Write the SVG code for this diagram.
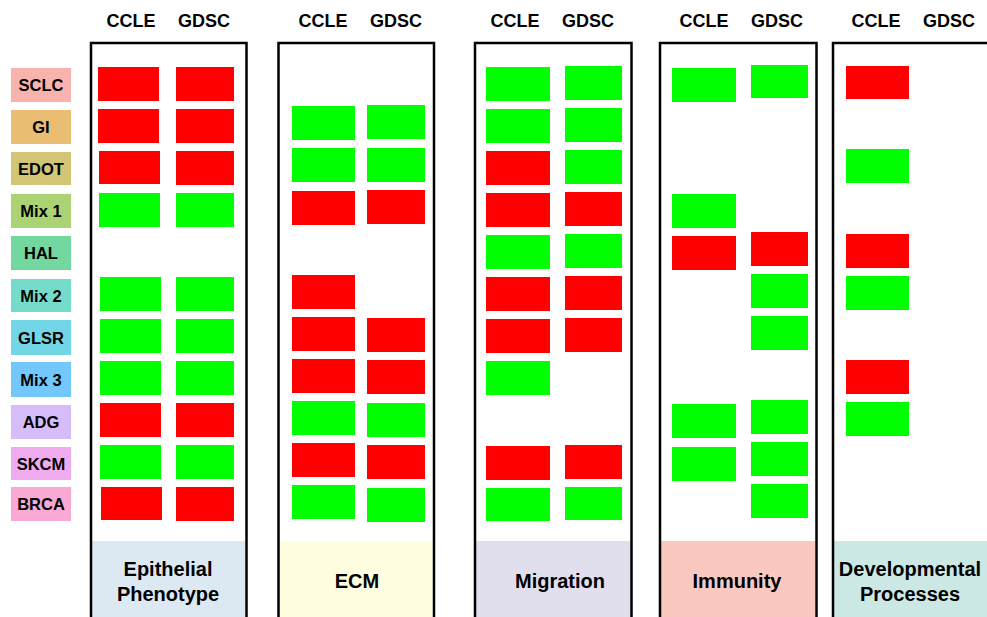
<svg xmlns="http://www.w3.org/2000/svg" width="987" height="617" viewBox="0 0 987 617">
<style>
text{font-family:"Liberation Sans",Arial,Helvetica,sans-serif;font-weight:bold;fill:#000;text-anchor:middle}
.hd{font-size:18px}
.lb{font-size:16.5px}
.bt{font-size:20px}
.box{fill:none;stroke:#000;stroke-width:2.5}
.r{fill:#ff0000}
.g{fill:#00ff00}
</style>
<rect width="987" height="617" fill="#fff"/>

<g id="labels">
<g id="lab-SCLC"><rect x="11" y="68" width="60" height="34" fill="#f9b3ae"/><text class="lb" x="41" y="91">SCLC</text></g>
<g id="lab-GI"><rect x="11" y="110" width="60" height="34" fill="#e9be72"/><text class="lb" x="41" y="133">GI</text></g>
<g id="lab-EDOT"><rect x="11" y="152" width="60" height="33" fill="#d2c676"/><text class="lb" x="41" y="174.5">EDOT</text></g>
<g id="lab-Mix1"><rect x="11" y="194" width="60" height="34" fill="#abd373"/><text class="lb" x="41" y="217">Mix 1</text></g>
<g id="lab-HAL"><rect x="11" y="236" width="60" height="34" fill="#72d8a0"/><text class="lb" x="41" y="259">HAL</text></g>
<g id="lab-Mix2"><rect x="11" y="279" width="60" height="33" fill="#75dccc"/><text class="lb" x="41" y="301.5">Mix 2</text></g>
<g id="lab-GLSR"><rect x="11" y="320" width="60" height="35" fill="#72d6e6"/><text class="lb" x="41" y="343.5">GLSR</text></g>
<g id="lab-Mix3"><rect x="11" y="362" width="60" height="35" fill="#72c8fa"/><text class="lb" x="41" y="385.5">Mix 3</text></g>
<g id="lab-ADG"><rect x="11" y="405" width="60" height="34" fill="#d6bcf9"/><text class="lb" x="41" y="428">ADG</text></g>
<g id="lab-SKCM"><rect x="11" y="447" width="60" height="33" fill="#f0aaee"/><text class="lb" x="41" y="469.5">SKCM</text></g>
<g id="lab-BRCA"><rect x="11" y="487" width="60" height="34" fill="#f9a9d3"/><text class="lb" x="41" y="510">BRCA</text></g>
</g>

<g id="panel-epithelial">
<rect x="92" y="541" width="153" height="80" fill="#dde9f2"/>
<rect class="box" x="91" y="43" width="155.5" height="590"/>
<text class="hd" x="131" y="27">CCLE</text><text class="hd" x="204" y="27">GDSC</text>
<rect class="r" x="98" y="67" width="61" height="34"/><rect class="r" x="176" y="67" width="58" height="34"/>
<rect class="r" x="98" y="109" width="61" height="34"/><rect class="r" x="176" y="109" width="58" height="34"/>
<rect class="r" x="99" y="151" width="61" height="33"/><rect class="r" x="176" y="151" width="58" height="34"/>
<rect class="g" x="99" y="193" width="61" height="34"/><rect class="g" x="176" y="193" width="58" height="34"/>
<rect class="g" x="100" y="277" width="61" height="34"/><rect class="g" x="176" y="277" width="58" height="34"/>
<rect class="g" x="100" y="319" width="61" height="34"/><rect class="g" x="176" y="319" width="58" height="34"/>
<rect class="g" x="100" y="361" width="61" height="34"/><rect class="g" x="176" y="361" width="58" height="34"/>
<rect class="r" x="100" y="403" width="61" height="34"/><rect class="r" x="176" y="403" width="58" height="34"/>
<rect class="g" x="100" y="445" width="61" height="34"/><rect class="g" x="176" y="445" width="58" height="34"/>
<rect class="r" x="101" y="487" width="61" height="33"/><rect class="r" x="176" y="487" width="58" height="34"/>
<text class="bt" x="168" y="576">Epithelial</text><text class="bt" x="168" y="601">Phenotype</text>
</g>

<g id="panel-ecm">
<rect x="279" y="541" width="154" height="80" fill="#fefde0"/>
<rect class="box" x="278.5" y="43" width="155.5" height="590"/>
<text class="hd" x="323" y="27">CCLE</text><text class="hd" x="396" y="27">GDSC</text>
<rect class="g" x="292" y="106" width="63" height="34"/><rect class="g" x="367" y="105" width="58" height="34"/>
<rect class="g" x="292" y="148" width="63" height="34"/><rect class="g" x="367" y="148" width="58" height="34"/>
<rect class="r" x="292" y="191" width="63" height="34"/><rect class="r" x="367" y="190" width="58" height="34"/>
<rect class="r" x="292" y="275" width="63" height="34"/>
<rect class="r" x="292" y="317" width="63" height="34"/><rect class="r" x="367" y="318" width="58" height="34"/>
<rect class="r" x="292" y="359" width="63" height="34"/><rect class="r" x="367" y="360" width="58" height="34"/>
<rect class="g" x="292" y="401" width="63" height="34"/><rect class="g" x="367" y="403" width="58" height="34"/>
<rect class="r" x="292" y="443" width="63" height="34"/><rect class="r" x="367" y="445" width="58" height="34"/>
<rect class="g" x="292" y="485" width="63" height="34"/><rect class="g" x="367" y="488" width="58" height="34"/>
<text class="bt" x="357" y="588">ECM</text>
</g>

<g id="panel-migration">
<rect x="476" y="541" width="155" height="80" fill="#e1dfee"/>
<rect class="box" x="475" y="43" width="156.5" height="590"/>
<text class="hd" x="515" y="27">CCLE</text><text class="hd" x="588" y="27">GDSC</text>
<rect class="g" x="486" y="67" width="64" height="34"/><rect class="g" x="565" y="66" width="57" height="34"/>
<rect class="g" x="486" y="109" width="64" height="34"/><rect class="g" x="565" y="108" width="57" height="34"/>
<rect class="r" x="486" y="151" width="64" height="34"/><rect class="g" x="565" y="150" width="57" height="34"/>
<rect class="r" x="486" y="193" width="64" height="34"/><rect class="r" x="565" y="192" width="57" height="34"/>
<rect class="g" x="486" y="235" width="64" height="34"/><rect class="g" x="565" y="234" width="57" height="34"/>
<rect class="r" x="486" y="277" width="64" height="34"/><rect class="r" x="565" y="276" width="57" height="34"/>
<rect class="r" x="486" y="319" width="64" height="34"/><rect class="r" x="565" y="318" width="57" height="34"/>
<rect class="g" x="486" y="361" width="64" height="34"/>
<rect class="r" x="486" y="446" width="64" height="34"/><rect class="r" x="565" y="445" width="57" height="34"/>
<rect class="g" x="486" y="488" width="64" height="33"/><rect class="g" x="565" y="487" width="57" height="33"/>
<text class="bt" x="560" y="588">Migration</text>
</g>

<g id="panel-immunity">
<rect x="661" y="541" width="154" height="80" fill="#fbc8c0"/>
<rect class="box" x="660" y="43" width="156.5" height="590"/>
<text class="hd" x="704" y="27">CCLE</text><text class="hd" x="777" y="27">GDSC</text>
<rect class="g" x="672" y="68" width="64" height="34"/><rect class="g" x="751" y="65" width="57" height="33"/>
<rect class="g" x="672" y="194" width="64" height="34"/>
<rect class="r" x="672" y="236" width="64" height="34"/><rect class="r" x="751" y="232" width="57" height="34"/>
<rect class="g" x="751" y="274" width="57" height="34"/>
<rect class="g" x="751" y="316" width="57" height="34"/>
<rect class="g" x="672" y="404" width="64" height="34"/><rect class="g" x="751" y="400" width="57" height="34"/>
<rect class="g" x="672" y="447" width="64" height="34"/><rect class="g" x="751" y="442" width="57" height="34"/>
<rect class="g" x="751" y="484" width="57" height="34"/>
<text class="bt" x="737" y="588">Immunity</text>
</g>

<g id="panel-developmental">
<rect x="834" y="541" width="160" height="80" fill="#cce8e4"/>
<rect class="box" x="833" y="43" width="170" height="590"/>
<text class="hd" x="876" y="27">CCLE</text><text class="hd" x="949" y="27">GDSC</text>
<rect class="r" x="846" y="66" width="63" height="33"/>
<rect class="g" x="846" y="149" width="63" height="34"/>
<rect class="r" x="846" y="234" width="63" height="34"/>
<rect class="g" x="846" y="276" width="63" height="34"/>
<rect class="r" x="846" y="360" width="63" height="34"/>
<rect class="g" x="846" y="402" width="63" height="34"/>
<text class="bt" x="910" y="576">Developmental</text><text class="bt" x="910" y="601">Processes</text>
</g>
</svg>
